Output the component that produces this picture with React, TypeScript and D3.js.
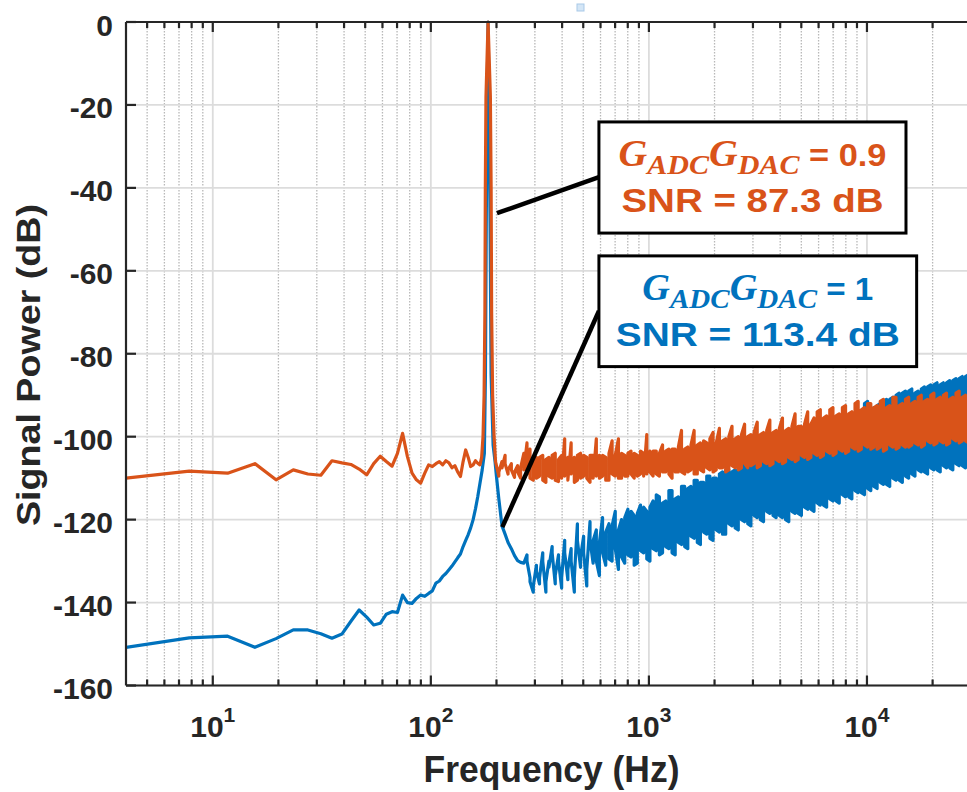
import React from 'react';
import * as d3 from 'd3';

// ---------- DATA ----------
// Smooth low-frequency part of each spectrum: [frequency Hz, power dB]
const ORANGE_LOW: [number, number][] = [
  [4, -110.0], [7.8, -108.3], [11.7, -108.8], [15.6, -106.5], [19.5, -110.4], [23.4, -108.0],
  [27.3, -109.0], [31.3, -109.3], [35.2, -105.8], [39.1, -106.3], [43.0, -106.7], [46.9, -107.8],
  [50.8, -109.2], [54.7, -106.5], [58.6, -104.7], [62.5, -106.0], [66.4, -107.1], [70.3, -104.0],
  [74.2, -99.2], [78.1, -104.8], [82.0, -108.8], [85.9, -110.4], [89.8, -111.2], [93.8, -108.8],
  [97.7, -106.8], [101.6, -107.2], [105.5, -106.5], [109.4, -106.0], [113.3, -106.8], [117.2, -105.8],
  [121.1, -106.3], [125.0, -107.5], [128.9, -107.0], [132.8, -108.5], [136.7, -109.6], [140.6, -106.0],
  [144.5, -103.2], [148.4, -105.0], [152.3, -107.2], [156.3, -106.8], [160.2, -105.8], [164.1, -106.4],
  [168.0, -106.8], [171.0, -105.0], [173.5, -100.0], [175.5, -90.0], [177.0, -70.0], [177.8, -40.0],
  [179.0, -18.0], [183.0, 0.0], [187.5, -18.0], [189.0, -40.0], [190.0, -70.0], [192.0, -90.0],
  [195.0, -100.0], [198.0, -106.0],
];

const BLUE_LOW: [number, number][] = [
  [4, -150.8], [7.8, -148.5], [11.7, -148.1], [15.6, -150.8], [19.5, -148.7], [23.4, -146.6],
  [27.3, -146.6], [31.3, -147.5], [35.2, -148.6], [39.1, -147.6], [43.0, -144.5], [46.9, -141.8],
  [50.8, -143.5], [54.7, -145.4], [58.6, -145.0], [62.5, -142.8], [66.4, -142.2], [70.3, -142.4],
  [74.2, -138.2], [78.1, -140.0], [82.0, -140.2], [85.9, -139.0], [89.8, -138.2], [93.8, -138.5],
  [97.7, -137.8], [101.6, -137.2], [105.5, -135.3], [109.4, -134.8], [113.3, -133.7], [117.2, -133.0],
  [121.1, -132.1], [125.0, -131.2], [128.9, -130.2], [132.8, -129.2], [136.7, -128.3], [140.6, -126.5],
  [144.5, -125.0], [148.4, -123.6], [152.3, -122.0], [156.3, -120.0], [160.2, -117.4], [164.1, -114.5],
  [168.0, -111.2], [172.0, -108.0], [176.0, -104.0], [178.0, -85.0], [179.5, -50.0], [181.0, -20.0],
  [183.0, 0.0], [185.0, -20.0], [187.0, -50.0], [189.0, -85.0], [193.0, -102.0], [197.0, -106.0],
  [200.0, -109.6],
];

// Dense (noisy) part: two samples per frequency bin, in plotting order [first dB, second dB]
const NOISE_FREQ: number[] = [
  205, 212, 219, 226, 234, 242, 250, 258, 267, 276,
  285, 295, 305, 315, 326, 337, 348, 360, 372, 385,
  398, 411, 425, 440, 455, 470, 486, 502, 519, 537,
  555, 574, 593, 613, 634, 656, 678, 701, 725, 749,
  775, 801, 828, 856, 885, 915, 946, 978, 1011, 1045,
  1081, 1117, 1155, 1194, 1235, 1277, 1320, 1365, 1411, 1459,
  1508, 1559, 1612, 1667, 1723, 1782, 1842, 1904, 1969, 2036,
  2105, 2176, 2250, 2326, 2405, 2486, 2570, 2657, 2747, 2840,
  2936, 3036, 3139, 3245, 3355, 3469, 3586, 3708, 3833, 3963,
  4097, 4236, 4380, 4528, 4681, 4840, 5004, 5173, 5349, 5530,
  5717, 5911, 6111, 6318, 6532, 6753, 6982, 7218, 7463, 7715,
  7977, 8247, 8526, 8815, 9114, 9422, 9742, 10072, 10413, 10766,
  11131, 11508, 11898, 12301, 12718, 13149, 13594, 14055, 14531, 15023,
  15532, 16058, 16603, 17165, 17747, 18348, 18970, 19613, 20277, 20965,
  21675, 22409, 23169, 23954, 24765, 25604, 26472, 27369, 28296, 29255,
  30246,
];

const ORANGE_NOISE: [number, number][] = [
  [-109.5, -108.5], [-106, -107.5], [-104.5, -106.5], [-109, -108], [-106.5, -108], [-109.8, -108.5], [-107, -108.5], [-110, -107.5], [-104, -108], [-101.5, -109],
  [-103, -110], [-110.5, -105.5], [-105, -110], [-109.5, -105], [-104.5, -110.5], [-111, -105.5], [-105, -109.5], [-110, -104.5], [-104, -110.5], [-110.8, -105.5],
  [-104.5, -110], [-100.5, -109.5], [-105, -110.5], [-101.5, -109], [-105, -111], [-110.5, -104.5], [-104, -110], [-109.5, -104.5], [-105, -110], [-111, -104.5],
  [-104.5, -110], [-100.5, -109.5], [-104.5, -110], [-109.5, -104.5], [-105, -110.5], [-110.5, -104], [-101, -109], [-109.5, -104.5], [-100.5, -110], [-110, -104],
  [-104.5, -109.5], [-109.5, -104], [-103.5, -109], [-110, -104], [-104.5, -109.5], [-109, -103.5], [-104, -109.5], [-99.5, -109], [-103.5, -108.5], [-109.5, -103.5],
  [-103.5, -109], [-109.5, -104], [-102, -108.5], [-108.5, -103.5], [-103, -109], [-110, -103], [-103, -108.5], [-108.5, -102.5], [-98.5, -108.5], [-109, -103],
  [-102.5, -108.5], [-108, -102], [-98.5, -109], [-109, -102], [-101.5, -108], [-108.5, -101], [-101.5, -107.5], [-108, -100.5], [-99, -108.5], [-108, -101.5],
  [-98, -107.5], [-107.5, -101], [-100.5, -108.5], [-108, -100], [-97.5, -107], [-107.5, -100.5], [-100, -108], [-107.5, -99.5], [-97, -106.5], [-107.5, -100],
  [-99.5, -107], [-106.5, -99], [-96.5, -107.5], [-107, -99.5], [-99, -106], [-106.5, -98.5], [-96, -107], [-106.5, -99], [-98.5, -105.5], [-106, -98],
  [-95.5, -106.5], [-106, -98.5], [-98, -105], [-105.5, -97.5], [-94.5, -106], [-105.5, -97.5], [-97.5, -104.5], [-105, -97], [-94, -105.5], [-105, -97],
  [-95.5, -104], [-104.5, -94], [-93.5, -105], [-104.5, -95.5], [-95, -103.5], [-104, -93.5], [-93, -104.5], [-104, -95], [-94.5, -103], [-103.5, -93],
  [-92.5, -104], [-103.5, -94.5], [-94, -102.5], [-103, -92], [-91.5, -103.5], [-103, -93.5], [-93, -102], [-102.5, -92], [-92, -103], [-102.5, -93],
  [-92.5, -103], [-102.5, -91.5], [-91, -103.5], [-103, -93], [-92.5, -102], [-102.5, -90.5], [-90.5, -103], [-102.5, -92.5], [-92, -102], [-102.5, -91],
  [-90.5, -102.5], [-102, -92], [-91.5, -101.5], [-102, -90.5], [-90, -102.5], [-102, -91.5], [-91, -101], [-101.5, -90], [-89.5, -102], [-101.5, -91],
  [-90.5, -101], [-101.5, -90], [-89.5, -102], [-101.5, -91], [-90.5, -100.5], [-101, -89.5], [-89, -101.5], [-101, -90.5], [-90, -101], [-101.5, -89.5],
  [-90, -101],
];

const BLUE_NOISE: [number, number][] = [
  [-115, -115], [-121.5, -121.5], [-123.5, -123.5], [-125.5, -125.5], [-127, -127], [-128.7, -128.7], [-129.9, -129.9], [-130.3, -130.3], [-130.5, -130.5], [-128.5, -130],
  [-134, -135], [-137.5, -136], [-131, -132.5], [-135.5, -134], [-128, -130], [-137.5, -135], [-130, -131.5], [-126.5, -128], [-135.5, -133.5], [-128.5, -130],
  [-136.5, -134], [-125, -128], [-134.5, -132], [-127, -130], [-137.5, -134], [-121, -125], [-131.5, -129], [-124, -128], [-136, -132], [-120.5, -125],
  [-130.5, -125], [-122.5, -130], [-133.5, -125.5], [-119.5, -128], [-131, -123], [-121, -129.5], [-130, -121.5], [-118, -127], [-132, -122.5], [-120, -129],
  [-130.5, -119.5], [-117.5, -128.5], [-129, -118], [-119, -131], [-130.5, -118.5], [-116.5, -127.5], [-128, -117], [-118, -129.5], [-130, -117], [-115.5, -127],
  [-127.5, -114], [-114.5, -128.5], [-128, -116], [-115.5, -126.5], [-127, -113], [-113, -128], [-128.5, -115], [-114.5, -125.5], [-126, -112], [-112, -126.5],
  [-127, -112.5], [-112, -124], [-124.5, -110.5], [-110.5, -125.5], [-126, -111], [-111, -123], [-123.5, -109.5], [-109.5, -124.5], [-125, -110], [-110, -122.5],
  [-123, -109], [-108.5, -123.5], [-123.5, -108], [-108, -121], [-121.5, -108.5], [-108, -122], [-122.5, -107], [-107, -120], [-120.5, -106.5], [-106, -121],
  [-121.5, -105.5], [-105.5, -119], [-119.5, -106], [-105.5, -120], [-120.5, -104.5], [-104.5, -118], [-118.5, -104], [-103.5, -119], [-119.5, -103], [-103, -119],
  [-119.5, -103.5], [-103, -120], [-120.5, -102], [-102, -118], [-118.5, -101.5], [-101, -118.5], [-119, -100.5], [-100.5, -117], [-117.5, -100], [-99.5, -117.5],
  [-118, -99.5], [-99, -116], [-116.5, -99], [-98.5, -116.5], [-117, -98], [-97.5, -115], [-115.5, -97.5], [-97, -115.5], [-116, -96.5], [-96, -114],
  [-114.5, -96], [-95.5, -114.5], [-115, -95], [-94.5, -113], [-113.5, -94.5], [-94, -113.5], [-114, -92], [-91.5, -112.5], [-113, -93.5], [-93, -112],
  [-112.5, -92.5], [-92, -111], [-111.5, -91.5], [-91, -111.5], [-112, -91], [-90.5, -110], [-110.5, -90], [-89.5, -110.5], [-111, -89.5], [-89, -109.5],
  [-110, -89], [-88.5, -109], [-109.5, -89.5], [-89, -108], [-108.5, -88.5], [-88, -108.5], [-109, -88], [-87.5, -107.5], [-108, -87.5], [-87, -108],
  [-108.5, -87.5], [-87, -107], [-107.5, -87], [-86.5, -107.5], [-108, -86.5], [-86, -106.5], [-107, -86], [-85.5, -107], [-107.5, -85.5], [-85, -106],
  [-106, -86],
];

const X_MAJOR_TICKS = [10, 100, 1000, 10000];
const X_TICK_EXPONENTS = ['1', '2', '3', '4'];
const Y_TICKS = [-160, -140, -120, -100, -80, -60, -40, -20, 0];

const ANNOTATIONS = [
  {
    color: '#D95319',
    gain: '0.9',
    snr: 'SNR = 87.3 dB',
    boxF: [590, 15100], boxDb: [-24.1, -50.9],
    from: [201, -46.1], to: [590, -37.4],
    w1: 268, w2: 262,
  },
  {
    color: '#0072BD',
    gain: '1',
    snr: 'SNR = 113.4 dB',
    boxF: [590, 16900], boxDb: [-56.4, -83.1],
    from: [212.7, -121.8], to: [590, -69.7],
    w1: 231, w2: 284,
  },
];

// ---------- LAYOUT ----------
const W = 967;
const H = 792;
const PLOT = { left: 126, right: 971, top: 22, bottom: 685.5 };
const AXIS = '#262626';
const SANS = "'Liberation Sans', Arial, Helvetica, sans-serif";
const SERIF = "'Liberation Serif', 'Times New Roman', serif";

export default function App() {
  const x = d3.scaleLog().domain([4, 30000]).range([PLOT.left, PLOT.right]);
  const y = d3.scaleLinear().domain([-160, 0]).range([PLOT.bottom, PLOT.top]);
  const line = d3
    .line<[number, number]>()
    .x((d) => x(d[0]))
    .y((d) => y(d[1]));

  const expand = (noise: [number, number][]) =>
    NOISE_FREQ.flatMap((f, i) => [
      [f, noise[i][0]] as [number, number],
      [f, noise[i][1]] as [number, number],
    ]);

  const orange: [number, number][] = [...ORANGE_LOW, ...expand(ORANGE_NOISE)];
  const blue: [number, number][] = [...BLUE_LOW, ...expand(BLUE_NOISE)];

  const minorX = x
    .ticks()
    .filter((t) => !X_MAJOR_TICKS.includes(t) && t > 4 && t < 30000);

  return (
    <svg
      width={W}
      height={H}
      style={{ position: 'absolute', left: 0, top: 0, background: '#fff' }}
    >
      <defs>
        <clipPath id="plotclip">
          <rect x={PLOT.left} y={PLOT.top - 2} width={PLOT.right - PLOT.left} height={PLOT.bottom - PLOT.top + 4} />
        </clipPath>
      </defs>
      <rect x={0} y={0} width={W} height={H} fill="#fff" />

      {/* grid */}
      <g>
        {minorX.map((t) => (
          <line key={'mx' + t} x1={x(t)} x2={x(t)} y1={PLOT.top} y2={PLOT.bottom}
            stroke="#b8b8b8" strokeWidth={1.3} strokeDasharray="1.5 1.5" />
        ))}
        {X_MAJOR_TICKS.map((t) => (
          <line key={'gx' + t} x1={x(t)} x2={x(t)} y1={PLOT.top} y2={PLOT.bottom}
            stroke="#dcdcdc" strokeWidth={1.8} />
        ))}
        {Y_TICKS.map((t) => (
          <line key={'gy' + t} x1={PLOT.left} x2={PLOT.right} y1={y(t)} y2={y(t)}
            stroke="#dcdcdc" strokeWidth={1.8} />
        ))}
      </g>

      {/* data */}
      <g clipPath="url(#plotclip)">
        <path d={line(blue) || ''} fill="none" stroke="#0072BD" strokeWidth={3.2}
          strokeLinejoin="round" strokeLinecap="round" />
        <path d={line(orange) || ''} fill="none" stroke="#D95319" strokeWidth={3.2}
          strokeLinejoin="round" strokeLinecap="round" />
      </g>

      {/* axes box */}
      <g stroke={AXIS} strokeWidth={2.2} fill="none">
        <line x1={PLOT.left} x2={PLOT.left} y1={PLOT.top} y2={PLOT.bottom} />
        <line x1={PLOT.left} x2={PLOT.right} y1={PLOT.top} y2={PLOT.top} />
        <line x1={PLOT.left} x2={PLOT.right} y1={PLOT.bottom} y2={PLOT.bottom} />
        <line x1={PLOT.right} x2={PLOT.right} y1={PLOT.top} y2={PLOT.bottom} />
        {minorX.map((t) => (
          <g key={'mt' + t}>
            <line x1={x(t)} x2={x(t)} y1={PLOT.bottom} y2={PLOT.bottom - 6} />
            <line x1={x(t)} x2={x(t)} y1={PLOT.top} y2={PLOT.top + 6} />
          </g>
        ))}
        {X_MAJOR_TICKS.map((t) => (
          <g key={'Mt' + t}>
            <line x1={x(t)} x2={x(t)} y1={PLOT.bottom} y2={PLOT.bottom - 10} />
            <line x1={x(t)} x2={x(t)} y1={PLOT.top} y2={PLOT.top + 10} />
          </g>
        ))}
        {Y_TICKS.map((t) => (
          <line key={'yt' + t} x1={PLOT.left} x2={PLOT.left + 10} y1={y(t)} y2={y(t)} />
        ))}
      </g>

      {/* tick labels */}
      <g fontFamily={SANS} fontWeight="bold" fill={AXIS}>
        {Y_TICKS.map((t) => (
          <text key={'yl' + t} x={PLOT.left - 13} y={y(t) + 13.5} textAnchor="end" fontSize={30}>
            {String(t)}
          </text>
        ))}
        {X_MAJOR_TICKS.map((t, i) => (
          <text key={'xl' + t} x={x(t)} y={737} textAnchor="middle" fontSize={30}>
            10
            <tspan fontSize={21} dy={-15}>{X_TICK_EXPONENTS[i]}</tspan>
          </text>
        ))}
      </g>

      {/* axis titles */}
      <text
        transform={`translate(40, 365) rotate(-90)`}
        textAnchor="middle"
        fontFamily={SANS}
        fontWeight="bold"
        fontSize={33}
        fill={AXIS}
        textLength={322}
        lengthAdjust="spacingAndGlyphs"
      >
        Signal Power (dB)
      </text>
      <text
        x={551.5}
        y={782}
        textAnchor="middle"
        fontFamily={SANS}
        fontWeight="bold"
        fontSize={36}
        fill={AXIS}
        textLength={256}
        lengthAdjust="spacingAndGlyphs"
      >
        Frequency (Hz)
      </text>

      {/* small marker at top */}
      <rect x={577} y={4} width={7} height={7} fill="#d4e6f6" stroke="#a9c9e8" strokeWidth={1} />

      {/* annotations */}
      {ANNOTATIONS.map((a, i) => {
        const bx0 = x(a.boxF[0]);
        const bx1 = x(a.boxF[1]);
        const by0 = y(a.boxDb[0]);
        const by1 = y(a.boxDb[1]);
        const cx = (bx0 + bx1) / 2;
        return (
          <g key={'an' + i}>
            <line x1={x(a.from[0])} y1={y(a.from[1])} x2={x(a.to[0])} y2={y(a.to[1])}
              stroke="#000" strokeWidth={4.5} />
            <rect x={bx0} y={by0} width={bx1 - bx0} height={by1 - by0}
              fill="#fff" stroke="#000" strokeWidth={3} />
            <text x={cx} y={by0 + 44} textAnchor="middle" fill={a.color}
              textLength={a.w1} lengthAdjust="spacingAndGlyphs" style={{ whiteSpace: 'pre' }}>
              <tspan fontFamily={SERIF} fontStyle="italic" fontWeight="bold" fontSize={37}>G</tspan>
              <tspan fontFamily={SERIF} fontStyle="italic" fontWeight="bold" fontSize={28} dy={8}>ADC</tspan>
              <tspan fontFamily={SERIF} fontStyle="italic" fontWeight="bold" fontSize={37} dy={-8}>G</tspan>
              <tspan fontFamily={SERIF} fontStyle="italic" fontWeight="bold" fontSize={28} dy={8}>DAC</tspan>
              <tspan fontFamily={SANS} fontWeight="bold" fontSize={32} dy={-8}>{' = ' + a.gain}</tspan>
            </text>
            <text x={cx} y={by0 + 90} textAnchor="middle" fill={a.color}
              fontFamily={SANS} fontWeight="bold" fontSize={34}
              textLength={a.w2} lengthAdjust="spacingAndGlyphs">
              {a.snr}
            </text>
          </g>
        );
      })}
    </svg>
  );
}
